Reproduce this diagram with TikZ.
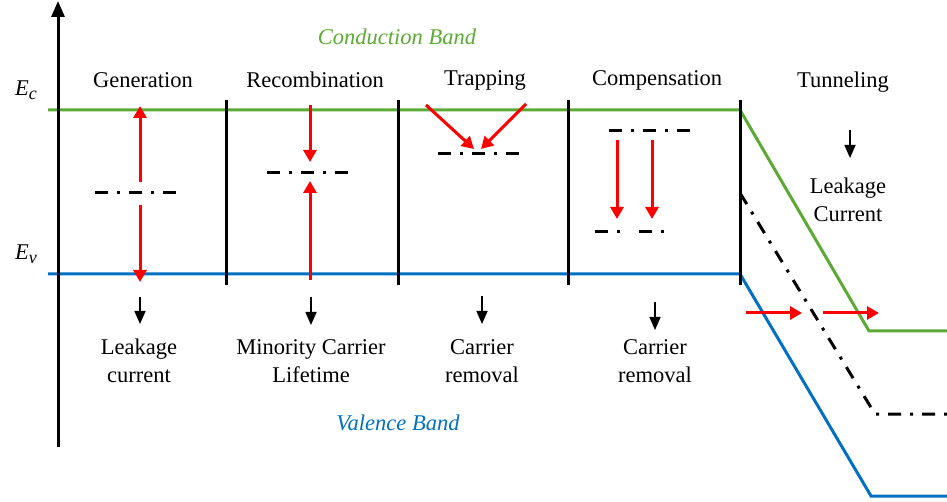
\documentclass[tikz,border=0pt]{standalone}
\usepackage{fontspec}
\setmainfont{Liberation Serif}
\usetikzlibrary{arrows.meta}
\definecolor{cbgreen}{RGB}{92,170,52}
\definecolor{vbblue}{RGB}{0,112,192}
\begin{document}
\begin{tikzpicture}[x=1pt,y=-1pt,
  lbl/.style={font=\fontsize{22.5}{28}\selectfont, inner sep=0pt, align=center},
  band/.style={line width=3pt},
  divider/.style={line width=3pt, black},
  trap/.style={line width=3pt, black, dash pattern=on 13pt off 9pt on 3pt off 9pt},
  trapwide/.style={line width=3pt, black, dash pattern=on 13pt off 9pt on 3pt off 19pt},
  redarrow/.style={line width=3pt, red, -{Triangle[length=12pt,width=13pt]}},
  blkarrow/.style={line width=1.6pt, black, -{Triangle[length=13pt,width=11pt]}},
]
\useasboundingbox (0,0) rectangle (947,502);

% bands
\coordinate (ecL) at (48,110);
\coordinate (ecK) at (740,110);
\coordinate (ecB) at (869,331);
\coordinate (ecR) at (947,331);
\coordinate (evL) at (48,274);
\coordinate (evK) at (740,274);
\coordinate (evB) at (871,496);
\coordinate (evR) at (947,496);
\coordinate (miK) at (740,193);
\coordinate (miB) at (875,414);
\coordinate (miR) at (947,414);
\draw[band, cbgreen] (ecL) -- (ecK) -- (ecB) -- (ecR);
\draw[band, vbblue] (evL) -- (evK) -- (evB) -- (evR);
\draw[trap] (miK) -- (miB) -- (miR);

% axis
\coordinate (axb) at (58,447);
\coordinate (axt) at (58,1);
\draw[line width=3pt, -{Triangle[length=16pt,width=13pt]}] (axb) -- (axt);

% dividers
\foreach \x/\n in {226/a,398/b,568/c,740/d}{
  \coordinate (dt\n) at (\x,100);
  \coordinate (db\n) at (\x,285);
  \draw[divider] (dt\n) -- (db\n);
}

% labels
\node[lbl] (ec) at (26,90) {\textit{E}\raisebox{-0.35ex}{\fontsize{18}{18}\selectfont\textit{c}}};
\node[lbl] (ev) at (26,254) {\textit{E}\raisebox{-0.35ex}{\fontsize{18}{18}\selectfont\textit{v}}};
\node[lbl, text=cbgreen] (cb) at (397,37) {\textit{Conduction Band}};
\node[lbl, text=vbblue] (vb) at (398,423) {\textit{Valence Band}};
\node[lbl] (gen) at (143,80) {Generation};
\node[lbl] (rec) at (315,80) {Recombination};
\node[lbl] (trp) at (485,80) {Trapping};
\node[lbl] (cmp) at (657,80) {Compensation};
\node[lbl] (tun) at (843,82) {Tunneling};
\node[lbl] (tlc) at (848,200) {Leakage\\Current};

\node[lbl] (o1) at (139,361) {Leakage\\current};
\node[lbl] (o2) at (311,361) {Minority Carrier\\Lifetime};
\node[lbl] (o3) at (482,361) {Carrier\\removal};
\node[lbl] (o4) at (655,361) {Carrier\\removal};

% trap levels
\coordinate (g1) at (95,193);  \coordinate (g2) at (176,193);
\coordinate (r1) at (267,173); \coordinate (r2) at (348,173);
\coordinate (t1) at (438,154); \coordinate (t2) at (519,154);
\coordinate (c1) at (609,131); \coordinate (c2) at (690,131);
\coordinate (c3) at (595,232); \coordinate (c4) at (665,232);
\draw[trap] (g1) -- (g2);
\draw[trap] (r1) -- (r2);
\draw[trap] (t1) -- (t2);
\draw[trap] (c1) -- (c2);
\draw[trapwide] (c3) -- (c4);

% red arrows
\coordinate (ga) at (140,182); \coordinate (gb) at (140,106);
\coordinate (gc) at (140,205); \coordinate (gd) at (140,282);
\draw[redarrow] (ga) -- (gb);
\draw[redarrow] (gc) -- (gd);
\coordinate (ra) at (310,105); \coordinate (rb) at (310,162);
\coordinate (rc) at (310,280); \coordinate (rd) at (310,181);
\draw[redarrow] (ra) -- (rb);
\draw[redarrow] (rc) -- (rd);
\coordinate (ta) at (426,105); \coordinate (tb) at (474,149);
\coordinate (tc) at (526,104); \coordinate (td) at (481,149);
\draw[redarrow] (ta) -- (tb);
\draw[redarrow] (tc) -- (td);
\coordinate (ca) at (617,140); \coordinate (cb2) at (617,219);
\coordinate (cc) at (652,140); \coordinate (cd) at (652,219);
\draw[redarrow] (ca) -- (cb2);
\draw[redarrow] (cc) -- (cd);
\coordinate (ua) at (746,313); \coordinate (ub) at (802,313);
\coordinate (uc) at (823,313); \coordinate (ud) at (879,313);
\draw[redarrow] (ua) -- (ub);
\draw[redarrow] (uc) -- (ud);

% black arrows
\coordinate (k1a) at (140,297); \coordinate (k1b) at (140,324);
\coordinate (k2a) at (311,297); \coordinate (k2b) at (311,325);
\coordinate (k3a) at (482,296); \coordinate (k3b) at (482,324);
\coordinate (k4a) at (655,302); \coordinate (k4b) at (655,330);
\coordinate (k5a) at (850,130); \coordinate (k5b) at (850,158);
\draw[blkarrow] (k1a) -- (k1b);
\draw[blkarrow] (k2a) -- (k2b);
\draw[blkarrow] (k3a) -- (k3b);
\draw[blkarrow] (k4a) -- (k4b);
\draw[blkarrow] (k5a) -- (k5b);
\end{tikzpicture}
\end{document}
